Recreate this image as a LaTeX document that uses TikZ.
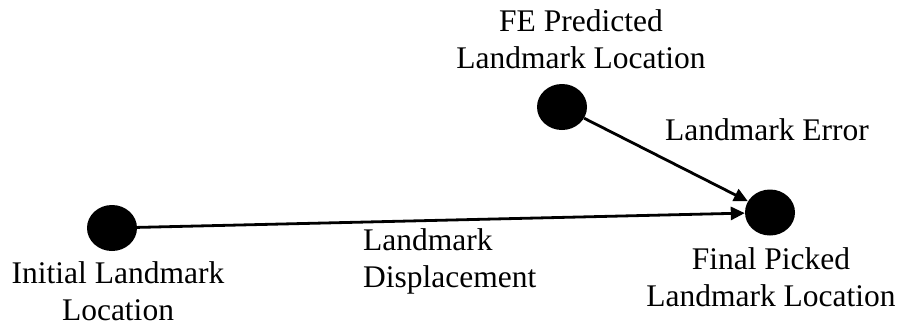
\documentclass[tikz,border=0pt]{standalone}
\usepackage{fontspec}
\setmainfont{Liberation Serif}
\usetikzlibrary{shapes.geometric,arrows.meta,positioning}

\begin{document}
\begin{tikzpicture}[x=1pt, y=-1pt,
  dot/.style={ellipse, fill=black, minimum width=50pt,
              minimum height=46pt, inner sep=0pt},
  lbl/.style={align=center, inner sep=0pt,
              font=\fontsize{31.5}{37}\selectfont},
  arr/.style={-{Triangle[length=14pt,width=13pt]}, line width=2.8pt}
]
  \useasboundingbox (0,0) rectangle (899,325);

  % landmark points
  \node[dot] (initial)   at (112,228)   {};
  \node[dot] (predicted) at (562,107)   {};
  \node[dot] (final)     at (770,212.5) {};

  % point labels (base = last line)
  \node[lbl, anchor=base] (initlbl)  at (118,320.5) {Initial Landmark\\Location};
  \node[lbl, anchor=base] (predlbl)  at (581,68)  {FE Predicted\\Landmark Location};
  \node[lbl, anchor=base] (finallbl) at (771,306.5) {Final Picked\\Landmark Location};

  % connector labels
  \node[lbl, align=left, anchor=base west] (displbl) at (363,287) {Landmark\\Displacement};
  \node[lbl, anchor=base] (errlbl) at (767,140.7) {Landmark Error};

  \draw[arr] (initial) -- (final);
  \draw[arr] (predicted) -- (final);
\end{tikzpicture}
\end{document}
